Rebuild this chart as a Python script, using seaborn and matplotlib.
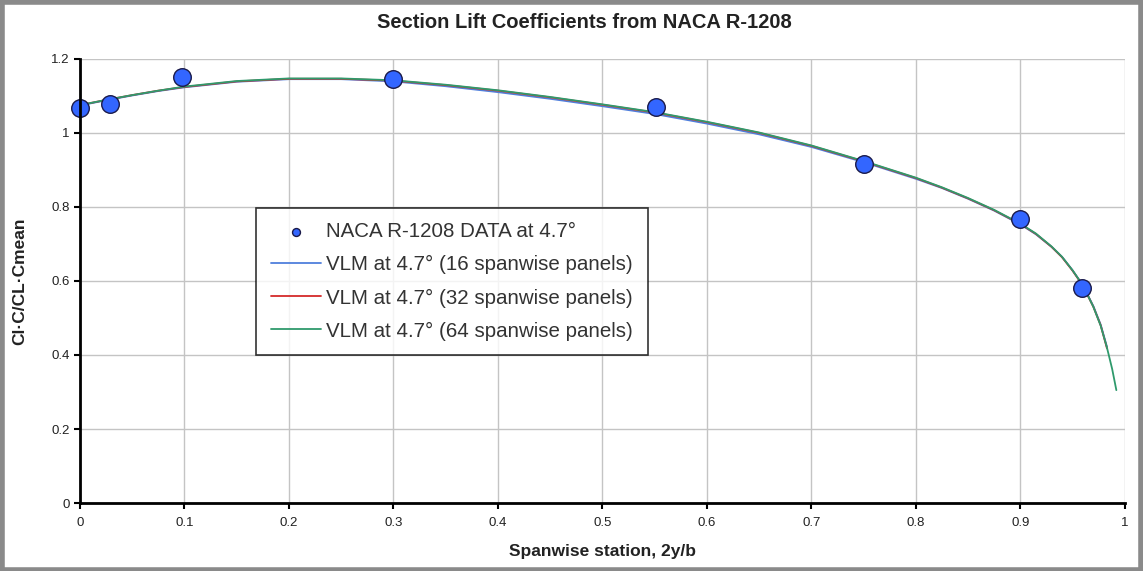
import matplotlib
matplotlib.use("Agg")
import matplotlib.pyplot as plt
from matplotlib.patches import Rectangle
import seaborn as sns
import pandas as pd

# NACA R-1208 measured section lift distribution at 4.7 deg
naca_x = [0.0, 0.029, 0.098, 0.300, 0.551, 0.750, 0.900, 0.959]
naca_y = [1.068, 1.078, 1.151, 1.146, 1.070, 0.916, 0.768, 0.581]

# Vortex-lattice results for three spanwise panel counts
vlm16_x = [0.0, 0.025, 0.05, 0.075, 0.10, 0.15, 0.20, 0.25, 0.30, 0.35, 0.40, 0.45, 0.50,
           0.55, 0.60, 0.65, 0.70, 0.75, 0.80, 0.825, 0.85, 0.875, 0.90, 0.915, 0.93, 0.94,
           0.95, 0.96, 0.97, 0.977, 0.983]
vlm16_y = [1.074, 1.088, 1.101, 1.113, 1.123, 1.138, 1.145, 1.145, 1.139, 1.126, 1.110, 1.092, 1.072,
           1.051, 1.025, 0.996, 0.962, 0.921, 0.876, 0.851, 0.822, 0.790, 0.753, 0.726, 0.692, 0.665,
           0.629, 0.588, 0.532, 0.482, 0.422]

vlm32_x = [0.0, 0.025, 0.05, 0.075, 0.10, 0.15, 0.20, 0.25, 0.30, 0.35, 0.40, 0.45, 0.50,
           0.55, 0.60, 0.65, 0.70, 0.75, 0.80, 0.825, 0.85, 0.875, 0.90, 0.915, 0.93, 0.94,
           0.95, 0.96, 0.97, 0.977, 0.983]
vlm32_y = [1.075, 1.089, 1.102, 1.114, 1.124, 1.139, 1.146, 1.146, 1.141, 1.129, 1.114, 1.096, 1.076,
           1.055, 1.029, 1.000, 0.965, 0.923, 0.878, 0.852, 0.823, 0.791, 0.754, 0.727, 0.692, 0.664,
           0.628, 0.587, 0.530, 0.480, 0.418]

vlm64_x = [0.0, 0.025, 0.05, 0.075, 0.10, 0.15, 0.20, 0.25, 0.30, 0.35, 0.40, 0.45, 0.50,
           0.55, 0.60, 0.65, 0.70, 0.75, 0.80, 0.825, 0.85, 0.875, 0.90, 0.915, 0.93, 0.94,
           0.95, 0.96, 0.97, 0.977, 0.983, 0.988, 0.992]
vlm64_y = [1.075, 1.089, 1.102, 1.114, 1.125, 1.140, 1.147, 1.147, 1.142, 1.130, 1.115, 1.097, 1.077,
           1.056, 1.030, 1.001, 0.966, 0.924, 0.879, 0.853, 0.824, 0.792, 0.755, 0.728, 0.693, 0.665,
           0.629, 0.588, 0.530, 0.479, 0.420, 0.362, 0.305]

x_ticks = [0, 0.1, 0.2, 0.3, 0.4, 0.5, 0.6, 0.7, 0.8, 0.9, 1]
x_tick_labels = ["0", "0.1", "0.2", "0.3", "0.4", "0.5", "0.6", "0.7", "0.8", "0.9", "1"]
y_ticks = [0, 0.2, 0.4, 0.6, 0.8, 1.0, 1.2]
y_tick_labels = ["0", "0.2", "0.4", "0.6", "0.8", "1", "1.2"]

sns.set_style("white")
plt.rcParams["font.family"] = ["Liberation Sans", "DejaVu Sans"]

fig = plt.figure(figsize=(11.43, 5.71), dpi=100)
ax = fig.add_axes([0.070, 0.119, 0.914, 0.778])

series = [
    (vlm16_x, vlm16_y, "VLM at 4.7° (16 spanwise panels)", "#4f7fdc"),
    (vlm32_x, vlm32_y, "VLM at 4.7° (32 spanwise panels)", "#d42a2a"),
    (vlm64_x, vlm64_y, "VLM at 4.7° (64 spanwise panels)", "#2f9a6c"),
]

naca_df = pd.DataFrame({"x": naca_x, "y": naca_y})
sns.scatterplot(data=naca_df, x="x", y="y", ax=ax, s=160, color="#3366ff",
                edgecolor="#1a1a4a", linewidth=1.0, zorder=5, clip_on=False,
                label="NACA R-1208 DATA at 4.7°")

for xs, ys, lab, col in series:
    df = pd.DataFrame({"x": xs, "y": ys})
    sns.lineplot(data=df, x="x", y="y", ax=ax, color=col, linewidth=1.3,
                 label=lab, sort=False, zorder=3)

ax.set_xlim(0, 1)
ax.set_ylim(0, 1.2)
ax.set_xticks(x_ticks)
ax.set_xticklabels(x_tick_labels)
ax.set_yticks(y_ticks)
ax.set_yticklabels(y_tick_labels)
ax.grid(True, color="#c4c4c4", linewidth=1.0)
ax.set_axisbelow(True)

for side in ["top", "right"]:
    ax.spines[side].set_visible(False)
for side in ["left", "bottom"]:
    ax.spines[side].set_color("black")
    ax.spines[side].set_linewidth(2.0)
    ax.spines[side].set_zorder(6)

ax.tick_params(axis="both", which="both", direction="out", length=4, width=1.5,
               color="black", labelsize=9.5, labelcolor="#222222", bottom=True, left=True)
ax.tick_params(axis="x", pad=6)

ax.set_xlabel("Spanwise station, 2y/b", fontsize=12.5, fontweight="bold", color="#222222", labelpad=11)
ax.set_ylabel("Cl·C/CL·Cmean", fontsize=12.5, fontweight="bold", color="#222222", labelpad=17)
ax.set_title("Section Lift Coefficients from NACA R-1208", fontsize=14.5, fontweight="bold",
             color="#222222", pad=22, x=0.483)

leg = ax.legend(loc="upper left", bbox_to_anchor=(0.1685, 0.665), borderaxespad=0.0,
                frameon=True, fancybox=False, edgecolor="black", fontsize=14.8,
                handlelength=2.45, handletextpad=0.25, labelspacing=0.68,
                borderpad=0.72, markerscale=0.45)
leg.get_frame().set_linewidth(1.2)
for t in leg.get_texts():
    t.set_color("#333333")

# outer chart border
fig.patches.append(Rectangle((0.002, 0.002), 0.996, 0.994, transform=fig.transFigure,
                             fill=False, edgecolor="#8a8a8a", linewidth=4))

fig.savefig("out.png", dpi=100)
